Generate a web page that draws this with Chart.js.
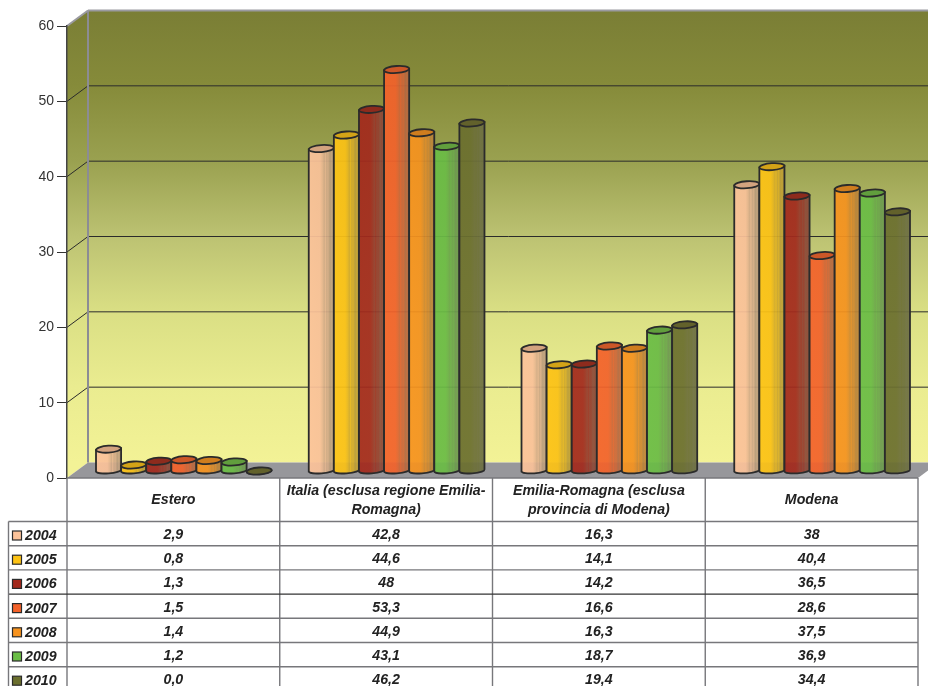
<!DOCTYPE html>
<html lang="it">
<head>
    <meta charset="UTF-8">
    <title>Grafico</title>
    <style>
        html, body { margin: 0; padding: 0; background: #fff; overflow: hidden; }
        canvas { display: block; }
    </style>
    <script src="https://cdn.jsdelivr.net/npm/chart.js"></script>
</head>
<body>
<canvas id="grafico" width="928" height="686"></canvas>

<script>
    const categorie = ['Estero', 'Italia (esclusa regione Emilia-Romagna)', 'Emilia-Romagna (esclusa provincia di Modena)', 'Modena'];
    const righeIntestazione = [['Estero'], ['Italia (esclusa regione Emilia-', 'Romagna)'], ['Emilia-Romagna (esclusa', 'provincia di Modena)'], ['Modena']];
    const anni = ['2004', '2005', '2006', '2007', '2008', '2009', '2010'];
    const v2004 = [2.9, 42.8, 16.3, 38];
    const v2005 = [0.8, 44.6, 14.1, 40.4];
    const v2006 = [1.3, 48, 14.2, 36.5];
    const v2007 = [1.5, 53.3, 16.6, 28.6];
    const v2008 = [1.4, 44.9, 16.3, 37.5];
    const v2009 = [1.2, 43.1, 18.7, 36.9];
    const v2010 = [0, 46.2, 19.4, 34.4];
    const valori = [v2004, v2005, v2006, v2007, v2008, v2009, v2010];
    const colori = ['#fcc39a', '#fdc315', '#a3291c', '#f4622a', '#f7931e', '#6abd45', '#6b6f2e'];

    // profondita della scena 3D
    const PROF_X = 21, PROF_Y = -15.5;
    const BAR_DX = 10.5, BAR_DY = -7;
    const TILT = -0.07;
    const FONT = '"Liberation Sans", Arial, sans-serif';
    const LINEA = '#2b2b2b';

    function mescola(hex, altro, t) {
        const a = parseInt(hex.slice(1), 16), b = parseInt(altro.slice(1), 16);
        const c = s => Math.round(((a >> s) & 255) * (1 - t) + ((b >> s) & 255) * t);
        return `rgb(${c(16)},${c(8)},${c(0)})`;
    }

    function formatta(v) {
        if (v === 0) return '0,0';
        return String(v).replace('.', ',');
    }

    function poligono(ctx, punti, fill) {
        ctx.beginPath();
        punti.forEach((p, i) => i ? ctx.lineTo(p[0], p[1]) : ctx.moveTo(p[0], p[1]));
        ctx.closePath();
        ctx.fillStyle = fill;
        ctx.fill();
    }

    function linea(ctx, x0, y0, x1, y1, colore, spessore) {
        ctx.beginPath();
        ctx.moveTo(x0, y0);
        ctx.lineTo(x1, y1);
        ctx.strokeStyle = colore;
        ctx.lineWidth = spessore;
        ctx.stroke();
    }

    const scena = {
        id: 'scena',
        // pareti e pavimento
        beforeDraw(chart) {
            const { ctx, chartArea: a, scales: { y } } = chart;
            const y60 = a.top, y0 = a.bottom;
            const xr = a.right + PROF_X;
            ctx.save();
            const g = ctx.createLinearGradient(0, y60 + PROF_Y, 0, y0 + PROF_Y);
            g.addColorStop(0, '#7a7e35');
            g.addColorStop(0.167, '#868b3a');
            g.addColorStop(0.333, '#9aa150');
            g.addColorStop(0.5, '#bcc272');
            g.addColorStop(0.667, '#dadf84');
            g.addColorStop(0.833, '#eaec90');
            g.addColorStop(1, '#f3f296');
            poligono(ctx, [[a.left, y60], [a.left + PROF_X, y60 + PROF_Y], [xr, y60 + PROF_Y], [xr, y0 + PROF_Y], [a.left + PROF_X, y0 + PROF_Y], [a.left, y0]], g);
            poligono(ctx, [[a.left, y0], [a.left + PROF_X, y0 + PROF_Y], [xr, y0 + PROF_Y], [a.right, y0]], '#97979b');

            y.ticks.forEach(t => {
                if (t.value === 0 || t.value === 60) return;
                const py = y.getPixelForValue(t.value);
                linea(ctx, a.left, py, a.left + PROF_X, py + PROF_Y, LINEA, 1);
                linea(ctx, a.left + PROF_X, py + PROF_Y, xr, py + PROF_Y, LINEA, 1);
            });
            linea(ctx, a.left + PROF_X, y60 + PROF_Y, a.left + PROF_X, y0 + PROF_Y, '#8c8c94', 2);
            linea(ctx, a.left, y60, a.left + PROF_X, y60 + PROF_Y, '#9a9aa0', 2);
            linea(ctx, a.left + PROF_X, y60 + PROF_Y, xr, y60 + PROF_Y, '#9a9aa0', 2);
            ctx.restore();
        },
        // cilindri
        beforeDatasetsDraw(chart) {
            const { ctx } = chart;
            valori.forEach((serie, i) => {
                const colore = colori[i];
                chart.getDatasetMeta(i).data.forEach(el => {
                    const x0 = el.x - el.width / 2 + BAR_DX, x1 = el.x + el.width / 2 + BAR_DX;
                    const cx = (x0 + x1) / 2, rx = (x1 - x0) / 2;
                    const top = el.y + BAR_DY, base = el.base + BAR_DY;
                    const alza = rx * Math.sin(TILT);
                    const g = ctx.createLinearGradient(x0, 0, x1, 0);
                    const scuro = '#70705a';
                    [[0, 0], [.45, .02], [.55, .15], [.62, .3], [.66, .15], [.72, .35], [.76, .25], [.85, .5], [.9, .4], [1, .6]]
                        .forEach(s => g.addColorStop(s[0], mescola(colore, scuro, s[1])));

                    ctx.save();
                    ctx.beginPath();
                    ctx.moveTo(x0, top - alza);
                    ctx.lineTo(x0, base - alza);
                    ctx.ellipse(cx, base, rx, 2.8, TILT, Math.PI, 0, true);
                    ctx.lineTo(x1, top + alza);
                    ctx.closePath();
                    ctx.globalAlpha = 0.93;
                    ctx.fillStyle = g;
                    ctx.fill();
                    ctx.globalAlpha = 1;
                    ctx.strokeStyle = LINEA;
                    ctx.lineWidth = 1.8;
                    ctx.stroke();

                    ctx.beginPath();
                    ctx.ellipse(cx, top, rx, 3.5, TILT, 0, Math.PI * 2);
                    ctx.fillStyle = mescola(colore, '#403020', 0.22);
                    ctx.fill();
                    ctx.stroke();
                    ctx.restore();
                });
            });
            return false;
        },
        // tabella dati con legenda
        afterDraw(chart) {
            const { ctx, chartArea: a, scales: { x } } = chart;
            const colW = (a.right - a.left) / categorie.length;
            const testa = 521.5, rigaH = 24.2, sx = 8.5;
            const bordo = '#77777b';
            ctx.save();
            ctx.textBaseline = 'middle';
            ctx.font = `italic bold 14.2px ${FONT}`;
            ctx.fillStyle = '#222';
            ctx.textAlign = 'center';

            categorie.forEach((c, j) => {
                const cx = x.getPixelForValue(j);
                const righe = righeIntestazione[j];
                righe.forEach((r, k) => ctx.fillText(r, cx, 500.5 + (k - (righe.length - 1) / 2) * 19));
                anni.forEach((an, i) => ctx.fillText(formatta(valori[i][j]), cx, testa + rigaH * i + 13.5));
            });

            // linee
            for (let j = 0; j <= categorie.length; j++) {
                linea(ctx, a.left + colW * j, a.bottom, a.left + colW * j, 686, bordo, 1.4);
            }
            linea(ctx, a.left, a.bottom, a.right, a.bottom, bordo, 1.4);
            anni.forEach((an, i) => {
                const yr = testa + rigaH * i;
                linea(ctx, sx, yr, a.right, yr, i === 3 ? '#333' : bordo, 1.4);
                // legenda
                ctx.fillStyle = colori[i];
                ctx.fillRect(12.5, yr + 9.5, 9, 9);
                ctx.strokeStyle = LINEA;
                ctx.lineWidth = 1.2;
                ctx.strokeRect(12.5, yr + 9.5, 9, 9);
                ctx.fillStyle = '#222';
                ctx.textAlign = 'left';
                ctx.fillText(an, 25, yr + 14.5);
            });
            linea(ctx, sx, testa, sx, 686, bordo, 1.4);
            ctx.restore();
        }
    };

    new Chart(document.getElementById('grafico'), {
        type: 'bar',
        data: {
            labels: categorie,
            datasets: anni.map((an, i) => ({ label: an, data: valori[i], backgroundColor: colori[i] }))
        },
        options: {
            responsive: false,
            animation: false,
            categoryPercentage: 0.826,
            barPercentage: 1,
            layout: { padding: { top: 26, right: 10, bottom: 208, left: 0 } },
            plugins: { legend: { display: false }, tooltip: { enabled: false } },
            scales: {
                x: {
                    ticks: { display: false },
                    grid: { display: false },
                    border: { display: false },
                    afterFit(s) { s.height = 0; }
                },
                y: {
                    min: 0,
                    max: 60,
                    ticks: { stepSize: 10, padding: 3, color: '#333', font: { family: FONT, size: 14 } },
                    grid: { drawOnChartArea: false, drawTicks: true, tickLength: 10, color: '#333', lineWidth: 1 },
                    border: { display: true, color: '#444', width: 1.5 },
                    afterFit(s) { s.width = 67; }
                }
            }
        },
        plugins: [scena]
    });
</script>
</body>
</html>
